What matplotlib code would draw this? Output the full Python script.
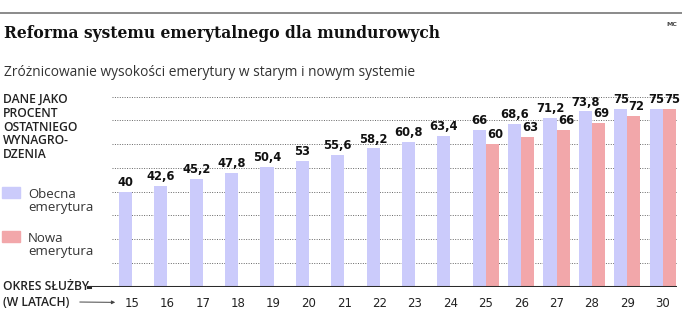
import numpy as np
import matplotlib.pyplot as plt

years = [15, 16, 17, 18, 19, 20, 21, 22, 23, 24, 25, 26, 27, 28, 29, 30]
obecna = [40, 42.6, 45.2, 47.8, 50.4, 53, 55.6, 58.2, 60.8, 63.4, 66, 68.6, 71.2, 73.8, 75, 75]
nowa_years = [25, 26, 27, 28, 29, 30]
nowa = [60, 63, 66, 69, 72, 75]

BLUE = '#cbcbfb'
RED = '#f2a7aa'
TXT = '#222222'

def fmt(v):
    return ('%g' % v).replace('.', ',')

fig = plt.figure(figsize=(6.82, 3.24), dpi=100)
W, H = 682, 324

# header
fig.add_artist(plt.Line2D([0, 1], [1 - 12.7 / H] * 2, color='#8a8a8a', lw=1.4))
fig.text(672 / W, 1 - 25 / H, 'MC', fontsize=4.5, fontweight='bold', color='#444', ha='center', va='center')
fig.text(4 / W, 1 - 33 / H, 'Reforma systemu emerytalnego dla mundurowych',
         family='DejaVu Serif', fontweight='bold', fontsize=11.2, color='#111', va='center')
fig.text(4 / W, 1 - 73 / H, 'Zróżnicowanie wysokości emerytury w starym i nowym systemie',
         family='Open Sans', fontsize=9.9, color='#333', va='center')

# axes: category 15 sits at x=132px, 30 at 662.7px; baseline at 286.7px
px_per_cat = (662.7 - 132) / 15
x0 = 15 + (90 - 132) / px_per_cat
x1 = 30 + (677 - 662.7) / px_per_cat
ppu = 2.375
ax = fig.add_axes([90 / W, (H - 286.7) / H, (677 - 90) / W, 85 * ppu / H])
ax.set_xlim(x0, x1)
ax.set_ylim(0, 85)
ax.axis('off')

gx = 15 + (112 - 132) / px_per_cat
ax.hlines(np.arange(10, 90, 10), gx, x1, colors='#666', linestyles=(0, (1, 1.5)), lw=0.7, zorder=0)

bw = 0.37
yrs = np.array(years)
ax.bar(yrs - bw / 2, obecna, width=bw, color=BLUE, zorder=2)
ax.bar(np.array(nowa_years) + bw / 2, nowa, width=bw, color=RED, zorder=2)
ax.axhline(0, color='#2a2a2a', lw=2.2, zorder=3)

for x, v in zip(years, obecna):
    ax.text(x - bw / 2, v + 1.2, fmt(v), ha='center', va='bottom', fontsize=8.3,
            fontweight='heavy', color='#111')
for x, v in zip(nowa_years, nowa):
    ax.text(x + bw / 2 + 0.08, v + 1.2, fmt(v), ha='center', va='bottom', fontsize=8.3,
            fontweight='heavy', color='#111')

for x in years:
    ax.text(x, -4.5, str(x), ha='center', va='top', fontsize=8.5, color=TXT, clip_on=False)

# left side texts
fig.text(3 / W, 1 - 93 / H, 'DANE JAKO\nPROCENT\nOSTATNIEGO\nWYNAGRO-\nDZENIA',
         fontsize=8.7, fontweight='semibold', family='Open Sans', color=TXT, va='top', linespacing=1.08)

fig.add_artist(plt.Rectangle((2 / W, 1 - 198 / H), 18 / W, 11 / H, color=BLUE))
fig.add_artist(plt.Rectangle((2 / W, 1 - 242 / H), 18 / W, 11 / H, color=RED))
fig.text(28 / W, 1 - 201 / H, 'Obecna\nemerytura', fontsize=9.5, family='Open Sans', color='#333',
         va='center', linespacing=1.0)
fig.text(28 / W, 1 - 245 / H, 'Nowa\nemerytura', fontsize=9.5, family='Open Sans', color='#333',
         va='center', linespacing=1.0)

fig.text(3 / W, 1 - 286 / H, 'OKRES SŁUŻBY', fontsize=8.7, fontweight='semibold', family='Open Sans',
         color=TXT, va='center')
fig.text(3 / W, 1 - 302 / H, '(W LATACH)', fontsize=8.7, fontweight='semibold', family='Open Sans',
         color=TXT, va='center')
fig.add_artist(plt.Line2D([88 / W, 90 / W], [1 - 286.7 / H] * 2, color='#2a2a2a', lw=2.2))
ax.annotate('', xy=(15 + (118 - 132) / px_per_cat, -6.6), xycoords='data',
            xytext=(77 / W, 1 - 302 / H), textcoords='figure fraction',
            arrowprops=dict(arrowstyle='-|>', color='#444', lw=0.7, mutation_scale=5),
            annotation_clip=False)

fig.savefig('out.png', dpi=100, facecolor='white')
